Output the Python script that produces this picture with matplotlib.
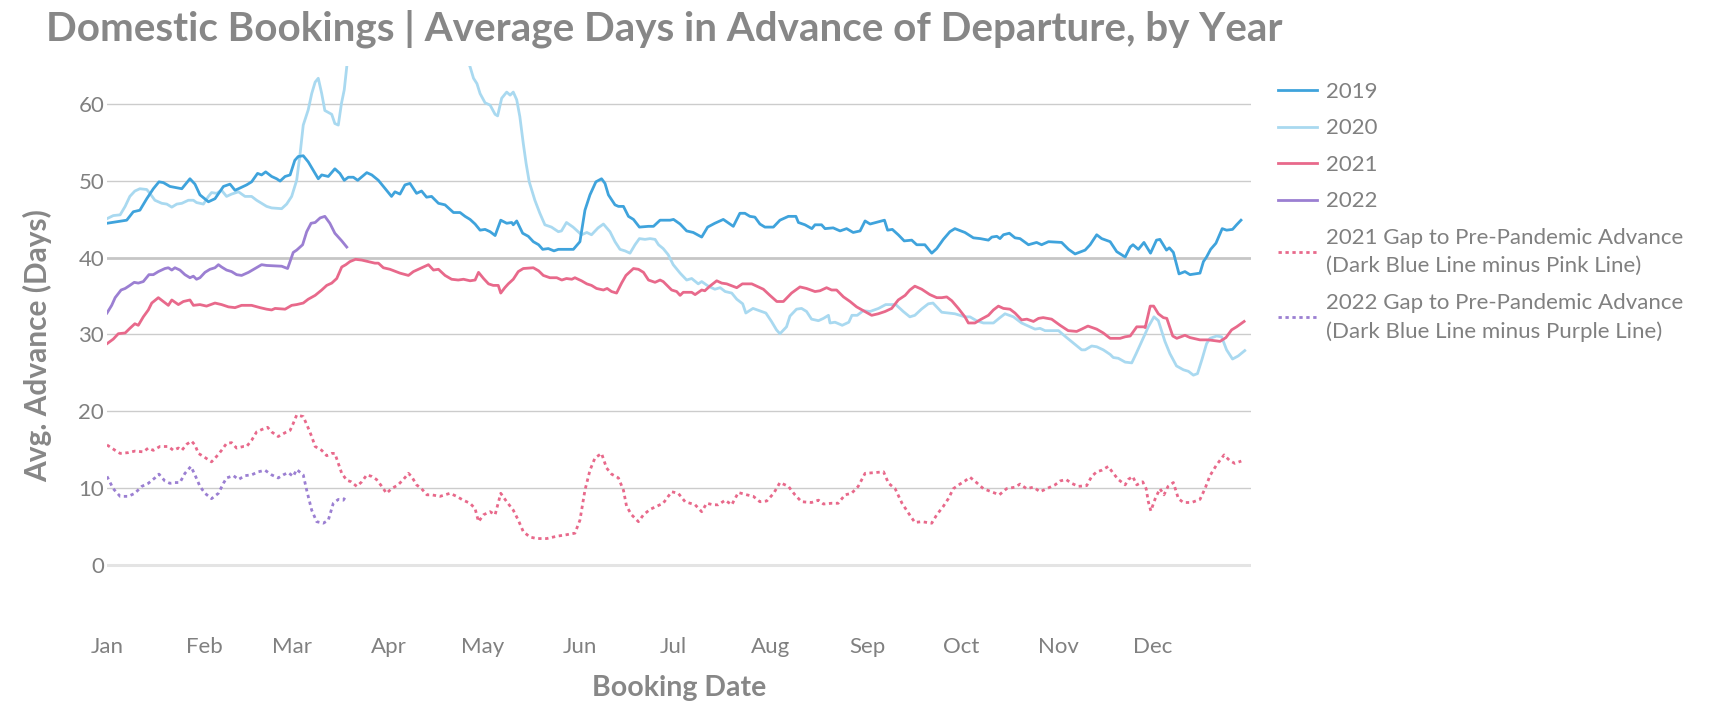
import matplotlib
matplotlib.use("Agg")
import matplotlib.pyplot as plt
from matplotlib.lines import Line2D

# ---------------- data (day of year, value) ----------------
d2019 = [0,6.3,8.4,10.5,12.7,14.8,16.6,18,20.1,23.9,26.5,28.1,29.7,32.4,34.5,37.2,39.3,40.9,42,44.6,46.2,48.1,49.4,50.7,52.6,54.2,55.3,56.9,58.5,60,61.1,62.7,64.3,65.9,67.5,68.6,70.7,72.8,74.4,75.8,77.1,78.7,80.1,83,84.6,86.7,90.9,92,93.6,95.2,96.8,98.9,100.5,102.1,103.7,105.9,108,110.7,112.8,114.4,116,117.6,119.2,120.8,122.4,124,125.8,127.7,129.3,129.8,130.9,132.8,134.6,136.2,137.9,139.2,141,142.8,144.2,149,151.1,152.7,154.3,156.2,158,159.1,160.2,162.3,163.4,165,166.6,168.2,170.1,173,174.6,176.7,179.9,181,183.1,185.2,187.3,190,191.9,194.2,196.9,200.1,202.2,203.8,205.4,207,208.6,210.2,212.9,215,217.7,220.1,220.9,223,225.2,226.2,228.3,229.4,232,234.2,236.3,238.4,240.6,242.2,243.8,246.5,248.4,249.4,250.9,252.8,254.7,257.1,258.7,261.3,263.5,265.1,267.2,269.3,270.9,274.1,276.8,279,281.6,282.7,284.3,285.3,286.4,288.3,290.1,291.7,294.4,297,298.6,300.8,305,307.2,309.3,312.5,314.1,316.2,317.8,320.5,322.6,325.3,326.9,327.8,329.5,331.3,333.4,335.3,336.4,338.5,339.4,340.7,342.5,344.4,346,349.2,350.3,351.3,352.6,354.3,356.3,357.7,359.6,360.9,362.3]
v2019 = [44.5,44.9,46.0,46.2,47.7,49.0,49.9,49.8,49.3,49.0,50.3,49.6,48.2,47.3,47.7,49.3,49.6,48.8,49.0,49.5,49.9,51.0,50.8,51.2,50.6,50.3,50.0,50.6,50.8,52.7,53.2,53.3,52.5,51.4,50.3,50.8,50.6,51.6,51.0,50.1,50.5,50.5,50.1,51.1,50.8,50.1,48.0,48.6,48.3,49.5,49.7,48.4,48.7,47.9,48.0,47.1,46.9,45.9,45.9,45.4,45.0,44.4,43.6,43.7,43.4,42.9,44.9,44.5,44.6,44.3,44.8,43.2,42.8,42.1,41.7,41.1,41.2,40.9,41.1,41.1,42.1,46.2,48.2,49.9,50.3,49.7,48.2,46.9,46.7,46.7,45.4,45.0,44.0,44.1,44.1,44.9,44.9,45.0,44.4,43.5,43.3,42.7,44.0,44.5,45.0,44.1,45.8,45.8,45.4,45.3,44.4,44.0,44.0,44.9,45.4,45.4,44.6,44.3,43.8,44.3,44.3,43.8,43.9,43.5,43.8,43.3,43.5,44.8,44.4,44.7,44.9,43.6,43.7,43.0,42.2,42.3,41.7,41.7,40.6,41.2,42.4,43.4,43.8,43.3,42.6,42.5,42.3,42.7,42.8,42.5,43.0,43.2,42.6,42.5,41.7,42.0,41.7,42.1,42.0,41.1,40.5,41.0,41.7,43.0,42.5,42.1,40.8,40.1,41.4,41.7,41.1,42.0,40.6,42.3,42.4,41.0,41.3,40.7,37.9,38.2,37.8,38.0,39.5,40.1,41.1,41.9,43.8,43.6,43.7,44.3,44.9]

d2020 = [0,2,4.2,5.8,7.3,8.9,10.5,12.7,13.7,15.3,17.5,19.1,20.7,22.3,23.9,26,27.6,28.6,30.8,32.4,33.4,35,36.6,38.2,39.8,42,44.1,46.2,47.8,49.4,51,52.6,55.8,57.4,59,60.6,61.7,62.7,64.3,65.4,66.5,67.5,68.6,69.6,71.8,72.8,73.9,74.9,75.8,76.6,80,100,116,117.1,118.2,119.2,120.8,122.4,124,124.8,126.1,127.7,128.8,129.8,130.9,131.9,133,133.9,134.9,136.7,138.3,139.9,142,144.2,145.2,146.8,148.9,151.6,153.3,154.8,156.9,158.6,160.7,162.3,163.9,165.5,167.1,168.7,170.1,171.9,173.5,175.1,176.2,177.7,179.3,180.9,183.1,185.2,186.8,188.9,190,192.1,194.2,195.9,197.5,199.6,201.2,203.1,204.1,206.4,208.5,210.5,212.3,213.9,215,217.1,218.2,220.3,221.9,223.5,225.1,227.3,228.9,230.5,231,232.6,234.9,237,238,239.7,241.6,243.8,246.5,248.8,252,254.4,256.5,258.1,260.2,262.4,263.9,266.7,268.8,270.9,274.1,275.7,277.8,280,283.2,285.3,286.9,289.6,292.2,294.9,296.5,298.1,299.7,304,306.6,308.7,311.4,312.5,314.6,316.2,318.3,320.5,321.5,323.1,325.3,327.4,328.8,330.6,332.7,334.5,335.9,338,339.6,341.7,343.9,345.5,347.1,348.4,349.8,351.3,352.4,354.5,356.1,357.7,359.6,361.4,363.5]
v2020 = [45.1,45.5,45.6,46.7,48.0,48.7,49.0,48.9,48.4,47.5,47.1,47.0,46.6,47.0,47.1,47.5,47.5,47.2,47.0,48.0,48.5,48.4,48.8,48.0,48.3,48.6,48.0,48.0,47.5,47.1,46.7,46.5,46.4,47.0,48.0,50.1,53.6,57.3,59.3,61.4,62.9,63.4,61.4,59.2,58.7,57.5,57.3,60.1,61.9,64.9,75.0,80.0,64.9,63.4,62.7,61.4,60.2,59.9,58.7,58.5,60.8,61.6,61.2,61.6,60.6,58.4,54.9,52.3,49.9,47.5,45.8,44.3,44.0,43.4,43.5,44.6,44.0,43.0,43.3,43.0,43.9,44.4,43.4,42.1,41.1,40.9,40.6,41.7,42.5,42.4,42.5,42.4,41.7,41.2,40.4,39.1,38.0,37.1,37.3,36.6,36.9,36.3,35.9,36.1,35.6,35.4,34.6,34.0,32.8,33.4,33.1,32.8,31.7,30.6,30.1,31.0,32.4,33.3,33.4,33.0,32.0,31.8,32.1,32.5,31.5,31.6,31.2,31.6,32.5,32.5,33.1,33.0,33.4,33.9,33.9,33.0,32.3,32.5,33.3,34.0,34.1,32.9,32.8,32.7,32.3,32.3,31.8,31.5,31.5,32.2,32.7,32.3,31.5,31.0,30.7,30.8,30.5,30.5,29.6,28.9,28.0,28.0,28.5,28.4,28.0,27.4,27.0,26.9,26.4,26.3,27.5,29.1,31.0,32.3,31.8,29.1,27.5,25.9,25.4,25.2,24.7,24.9,26.7,28.8,29.5,29.8,29.7,28.0,26.8,27.2,27.9]

d2021 = [0,2,3.6,5.8,7.3,8.9,10,11.6,13.2,14.3,16.4,18,19.6,20.7,22.8,24.4,26.5,27.6,29.7,31.8,34.5,36.6,38.8,40.9,43,46.2,48.9,51,52.6,53.7,56.9,59,60.6,62.7,64.3,66.5,68.6,70.2,71.8,73.4,75,76.3,77.6,79.4,81.4,83.5,85.6,86.7,88.3,90.4,93.6,96.3,97.9,100,102.7,104.3,105.9,108,110.1,112.2,113.9,116,117.6,118.7,120.3,121.9,123.4,125,125.8,127.1,128.2,129.8,131.4,133,136.2,137.9,139.4,141.5,143.7,145.3,146.8,148.5,149.5,151.6,153.3,154.8,156.4,158.6,159.8,161.2,162.8,164.4,165.8,168.2,169.8,171.4,173,175.1,176.7,177.7,180.4,182,183.1,184.1,186.8,187.9,190,191,192.6,194.8,196.4,198,201.2,203,206,207.6,209.7,211.8,214,216.1,218.7,221.4,223.5,226.2,227.8,229.9,231.5,233.1,235.3,237.4,239.5,241.7,244.3,246.4,248.6,250.7,252.8,255,256.5,258.1,260.3,262.9,265.1,266.7,268.3,269.9,272,274.1,275.2,277.3,278.9,281.6,283.2,284.8,286.4,288.5,290.1,292.2,293.9,296,297.6,299.1,301.8,304.5,307.1,309.8,311.4,313.4,316.2,318.3,320.5,323.7,325.3,326.9,329,331.2,331.7,333.3,334.4,335.9,337.5,338.6,340.5,341.8,344.4,346,349.2,351.9,355.6,357.5,359.3,360.9,363.3]
v2021 = [28.8,29.4,30.1,30.2,30.8,31.4,31.2,32.3,33.2,34.1,34.8,34.3,33.8,34.5,33.9,34.3,34.5,33.8,33.9,33.7,34.1,33.9,33.6,33.5,33.8,33.8,33.5,33.3,33.2,33.4,33.3,33.8,33.9,34.1,34.6,35.1,35.8,36.4,36.7,37.3,38.8,39.1,39.5,39.8,39.7,39.5,39.3,39.3,38.7,38.5,38.0,37.7,38.2,38.6,39.1,38.4,38.5,37.7,37.2,37.1,37.2,37.0,37.1,38.1,37.3,36.6,36.4,36.4,35.4,36.1,36.6,37.2,38.2,38.6,38.7,38.3,37.7,37.4,37.4,37.1,37.3,37.2,37.4,37.0,36.6,36.4,36.0,35.8,36.0,35.6,35.4,36.7,37.7,38.6,38.5,38.1,37.1,36.8,37.1,36.9,35.8,35.6,35.1,35.5,35.5,35.2,35.8,35.7,36.3,37.0,36.7,36.6,36.1,36.6,36.6,36.3,35.9,35.1,34.3,34.3,35.4,36.2,36.0,35.6,35.7,36.1,35.8,35.8,34.9,34.3,33.6,33.1,32.5,32.7,33.0,33.4,34.5,35.1,35.8,36.3,35.9,35.2,34.8,34.8,34.9,34.4,33.4,32.3,31.5,31.5,31.9,32.5,33.2,33.7,33.4,33.3,32.8,31.9,32.0,31.7,32.1,32.2,32.0,31.2,30.5,30.4,30.7,31.1,30.7,30.2,29.5,29.5,29.7,29.8,31.0,31.0,30.9,33.7,33.7,32.7,32.2,32.1,29.8,29.5,29.9,29.6,29.3,29.3,29.1,29.6,30.6,31.0,31.7]

d2022 = [0,1.5,2.6,4.5,5.8,7.3,8.7,10,11.6,13.4,14.8,16.4,18.5,19.6,20.7,21.7,23.3,24.9,26.5,27.6,28.6,29.7,31.3,32.9,34.5,35.6,36.6,38.2,39.8,41.4,43,45.2,47.3,49.4,51,55.8,57.7,59.5,60.6,62.5,63.8,65.2,66.5,68.1,69.6,71.2,72.8,75,76.6]
v2022 = [32.8,33.8,34.8,35.8,36.0,36.4,36.8,36.7,36.9,37.8,37.8,38.2,38.6,38.7,38.4,38.7,38.4,37.8,37.4,37.6,37.2,37.4,38.1,38.5,38.7,39.1,38.8,38.4,38.2,37.8,37.7,38.1,38.6,39.1,39.0,38.9,38.6,40.7,41.0,41.7,43.4,44.5,44.6,45.2,45.4,44.5,43.2,42.2,41.4]

dgap21 = [0,2.6,4.2,6.8,8.9,11.6,13.2,14.8,16.9,19.6,21.2,22.8,23.9,25.5,27,28.1,29.2,30.8,33.4,35,36.6,38.2,39.8,41.4,43.6,44.6,46.2,47.8,49.4,51.3,52.6,54.7,56.9,58.5,59.5,60.6,62.7,64.3,65.4,66.5,68.6,70.2,71.8,72.8,73.9,75,76.6,78,79.8,81.4,83,84.6,86.1,87.8,89.3,90.9,93,94.7,96.3,97.3,98.9,100.5,102.2,103.7,106.4,109.6,111.7,113.8,116,117.6,118.7,120.3,122.4,124,125.8,127.7,129.8,131.4,133,135.1,137.3,140.5,143.7,146.8,149.5,151.1,152.7,154.3,155.9,158,159.6,161.2,163.4,165,166,167.6,169.8,171.4,173.5,175.6,177.7,180.4,182.5,184.7,187.9,190,191.6,193.7,195.3,197.5,199.6,201.7,204.4,206.5,208.6,210.8,213,215,217.7,219.8,221.9,225.1,227.3,228.9,231.5,233.6,235.8,237.9,240,242.2,245.4,248.1,249.7,251.8,254,256.1,258.1,260.3,263.5,265.1,267.2,268.8,270.4,272.5,274.1,275.7,277.8,280,282.6,285.1,287.4,290.1,291.7,293.8,296,298.1,300.2,302.9,304.5,306.4,308.2,310.3,313,314.6,316.2,317.8,319.9,321.5,323.1,325.3,326.3,327.7,329,330.9,332,332.7,333.5,334.9,336.4,337.7,339,340.7,342.3,343.9,346.5,349.2,350.8,352.4,354.5,356.9,358.6,360.3,362.4]
vgap21 = [15.6,14.9,14.5,14.6,14.8,14.7,15.2,14.9,15.4,15.4,14.9,15.2,14.9,15.7,16.1,15.6,14.5,14.1,13.4,14.1,14.9,15.8,15.9,15.2,15.4,15.4,16.2,17.3,17.6,17.9,17.3,16.7,17.2,17.5,18.4,19.5,19.3,17.8,16.7,15.4,14.9,14.2,14.5,14.5,13.2,11.9,11.0,10.8,10.2,10.8,11.7,11.5,11.1,10.2,9.3,9.9,10.4,11.1,11.9,11.5,10.4,9.9,9.1,9.1,8.9,9.3,8.9,8.4,8.0,7.3,5.6,6.5,6.9,6.5,9.3,8.2,7.1,5.8,4.3,3.6,3.4,3.4,3.7,3.9,4.1,5.8,9.7,12.3,13.9,14.5,12.6,11.8,11.3,9.7,7.6,6.5,5.6,6.5,7.2,7.6,8.0,9.5,9.3,8.2,7.8,6.9,8.0,7.8,7.8,8.4,7.8,9.4,9.1,8.9,8.2,8.3,9.3,10.7,10.2,9.1,8.2,8.1,8.4,7.9,8.0,8.0,9.1,9.3,10.2,11.9,12.0,12.1,10.6,9.9,8.0,6.7,5.5,5.6,5.4,6.5,7.6,8.6,9.9,10.5,10.9,11.4,10.7,9.9,9.5,9.1,9.9,10.1,10.5,9.9,10.1,9.5,9.9,10.4,10.9,11.1,10.6,10.2,10.3,11.5,12.1,12.3,12.8,11.9,11.1,10.4,11.1,11.5,10.4,10.8,9.9,8.2,7.0,8.6,9.9,9.1,10.2,10.7,8.6,8.1,8.1,8.5,9.9,11.6,13.0,14.3,13.6,13.2,13.5]

dgap22 = [0,2,4.2,6.8,8.9,11.1,13.2,15.3,16.6,18.5,20.1,21.7,23.3,24.9,26.8,28.1,29.7,31.3,33.4,35.6,37.2,38.2,40.4,42,44.1,46.2,48.3,50.5,52.6,54.7,56.3,57.9,59.5,60.6,62.7,63.8,65.4,67,69.1,70.7,72.3,73.9,75.5,76.6]
vgap22 = [11.5,9.9,8.9,8.9,9.3,10.2,10.6,11.3,11.8,10.9,10.6,10.7,10.7,11.9,12.8,11.7,10.2,9.3,8.6,9.3,10.6,11.3,11.6,11.1,11.6,11.7,12.1,12.3,11.7,11.3,11.7,12.0,11.5,12.4,11.7,9.7,7.1,5.6,5.4,5.8,8.0,8.5,8.4,9.1]

month_labels = ["Jan", "Feb", "Mar", "Apr", "May", "Jun", "Jul", "Aug", "Sep", "Oct", "Nov", "Dec"]
month_days = [0, 31, 59, 90, 120, 151, 181, 212, 243, 273, 304, 334]
y_ticks = [0, 10, 20, 30, 40, 50, 60]

series_labels = ["2019", "2020", "2021", "2022",
                 "2021 Gap to Pre-Pandemic Advance\n(Dark Blue Line minus Pink Line)",
                 "2022 Gap to Pre-Pandemic Advance\n(Dark Blue Line minus Purple Line)"]

# ---------------- style ----------------
C19, C20, C21, C22 = "#3fa3dc", "#a9d9f0", "#e8698b", "#9b7fd2"
TITLE_C = "#878787"
TICK_C = "#808080"
FONT = ["Lato", "DejaVu Sans"]
plt.rcParams["font.family"] = FONT

W, H = 1720, 714
fig = plt.figure(figsize=(W / 100, H / 100), dpi=100)
fig.patch.set_facecolor("white")

L, R, T, B = 107, 1251, 66, 626
ax = fig.add_axes([L / W, 1 - B / H, (R - L) / W, (B - T) / H])
ax.set_xlim(0, 365.5)
ax.set_ylim(-8, 65)
for s in ax.spines.values():
    s.set_visible(False)

for yt in y_ticks:
    if yt == 40:
        ax.axhline(yt, color="#c6c6c6", lw=2.0, zorder=1)
    elif yt == 0:
        ax.axhline(yt, color="#e4e4e4", lw=2.2, zorder=1)
    else:
        ax.axhline(yt, color="#cccccc", lw=1.0, zorder=1)

lw = 2.0
ax.plot(d2020, v2020, color=C20, lw=lw, zorder=3, solid_joinstyle="round")
ax.plot(d2019, v2019, color=C19, lw=lw, zorder=4, solid_joinstyle="round")
ax.plot(d2021, v2021, color=C21, lw=lw, zorder=4, solid_joinstyle="round")
ax.plot(d2022, v2022, color=C22, lw=lw, zorder=4, solid_joinstyle="round")
dots = (0, (1.2, 1.3))
ax.plot(dgap21, vgap21, color=C21, lw=lw, ls=dots, zorder=4)
ax.plot(dgap22, vgap22, color=C22, lw=lw, ls=dots, zorder=4)

ax.set_yticks(y_ticks)
ax.set_yticklabels([str(v) for v in y_ticks])
ax.set_xticks(month_days)
ax.set_xticklabels(month_labels)
ax.tick_params(axis="both", length=0, colors=TICK_C, labelsize=16)
ax.tick_params(axis="y", pad=2)
ax.tick_params(axis="x", pad=8)

ax.set_xlabel("Booking Date", fontsize=20.5, fontweight="bold", color=TITLE_C, labelpad=13)
ax.set_ylabel("Avg. Advance (Days)", fontsize=21.5, fontweight="bold", color=TITLE_C, labelpad=19)

title = fig.text(46 / W, 1 - 41 / H,
                 "Domestic Bookings | Average Days in Advance of Departure, by Year",
                 fontsize=29, fontweight="bold", color=TITLE_C, ha="left", va="baseline")

handles = [Line2D([], [], color=C19, lw=lw),
           Line2D([], [], color=C20, lw=lw),
           Line2D([], [], color=C21, lw=lw),
           Line2D([], [], color=C22, lw=lw),
           Line2D([], [], color=C21, lw=lw, ls=dots),
           Line2D([], [], color=C22, lw=lw, ls=dots)]
leg = fig.legend(handles, series_labels, loc="upper left",
                 bbox_to_anchor=(1278 / W, 1 - 82 / H), frameon=False,
                 fontsize=16, handlelength=1.75, handletextpad=0.42,
                 labelspacing=0.74, borderaxespad=0, borderpad=0)
for t in leg.get_texts():
    t.set_color(TICK_C)
    t.set_linespacing(1.52)

# fit title width to reference
fig.canvas.draw()
r = fig.canvas.get_renderer()
w = title.get_window_extent(r).width
title.set_fontsize(29 * 1235 / w)

fig.savefig("out.png", dpi=100, facecolor="white")
